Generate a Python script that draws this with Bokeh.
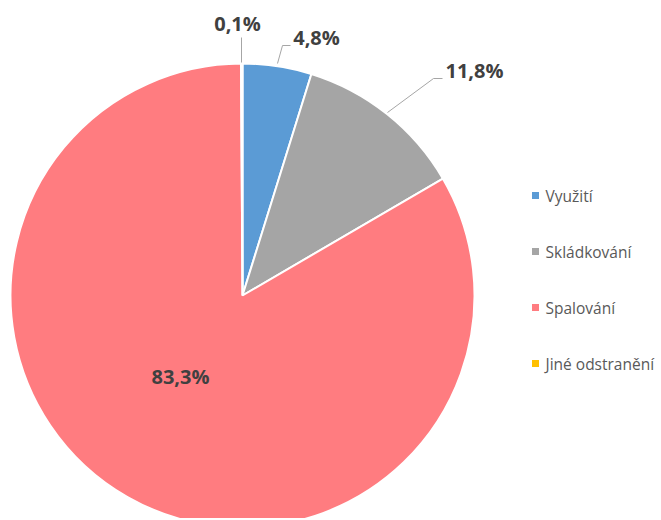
import numpy as np
from bokeh.plotting import figure
from bokeh.models import Range1d
from bokeh.core.properties import value
from bokeh.embed import file_html
from bokeh.resources import INLINE

# ---- data ----
categories = ["Využití", "Skládkování", "Spalování", "Jiné odstranění"]
shares = [4.8, 11.8, 83.3, 0.1]
labels = ["4,8%", "11,8%", "83,3%", "0,1%"]
colors = ["#5B9BD5", "#A5A5A5", "#FF7C80", "#FFC000"]

# ---- layout (page pixel coordinates; data y = 520 - page y) ----
W, H = 660, 518
cx, cy, R = 242, 520 - 295, 232

vals = np.array(shares)
ang = vals / vals.sum() * 2 * np.pi
starts = np.pi / 2 - np.concatenate([[0], np.cumsum(ang)[:-1]])
ends = starts - ang

p = figure(width=W, height=H, output_backend="svg", toolbar_location=None,
           x_range=Range1d(0, W), y_range=Range1d(520 - H, 520),
           min_border=0, match_aspect=False)
p.axis.visible = False
p.grid.visible = False
p.outline_line_color = None
p.background_fill_color = "white"
p.border_fill_color = "white"

p.wedge(x=cx, y=cy, radius=R, start_angle=starts, end_angle=ends,
        direction="clock",
        fill_color=colors, line_color="white", line_width=2)

# data label positions (layout)
lab_x = [316, 474, 180, 237]
lab_y = [520 - 37, 520 - 70, 520 - 376, 520 - 23]
p.text(x=lab_x, y=lab_y, text=labels, text_align="center", text_baseline="middle",
       text_font=value("Open Sans"), text_font_style="bold",
       text_font_size="20px", text_color="#404040")

# leader lines
p.multi_line(xs=[[241, 241], [277, 282, 290], [387, 433, 442]],
             ys=[[520 - 62, 520 - 37], [520 - 63, 520 - 45, 520 - 45],
                 [520 - 112, 520 - 78, 520 - 78]],
             line_color="#A6A6A6", line_width=1)

# legend (manual)
leg_y = [520 - (195 + 56 * i) for i in range(len(categories))]
p.scatter(x=[535] * len(categories), y=leg_y, marker="square", size=7,
          fill_color=colors, line_color=None)
p.text(x=[545] * len(categories), y=leg_y, text=categories, text_align="left",
       text_baseline="middle", text_font=value("Open Sans"),
       text_font_size="15.5px", text_color="#595959")

open("out.html", "w").write(file_html(p, INLINE))
